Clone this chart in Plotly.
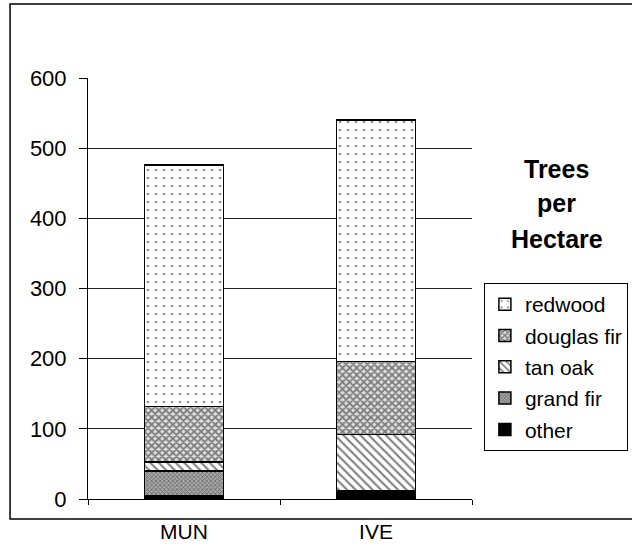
import plotly.graph_objects as go

# Trees per hectare by species at two sites
sites = ["MUN", "IVE"]
other = [4, 12]
grand_fir = [36, 0]
tan_oak = [13, 80]
douglas_fir = [79, 104]
redwood = [344, 344]

FONT = "Liberation Sans, Arial, sans-serif"

# (name, values, base colour, fill pattern, legend rank) in stacking order
series = [
    ("other", other, "black", dict(shape=""), 5),
    ("grand fir", grand_fir, "white", dict(shape="x", bgcolor="#a8a8a8", fgcolor="#2a2a2a", size=3, solidity=0.45), 4),
    ("tan oak", tan_oak, "white", dict(shape="\\", bgcolor="white", fgcolor="black", size=6, solidity=0.35), 3),
    ("douglas fir", douglas_fir, "white", dict(shape="x", bgcolor="#e0e0e0", fgcolor="#1a1a1a", size=5, solidity=0.6), 2),
    ("redwood", redwood, "white", dict(shape=".", bgcolor="white", fgcolor="#222222", size=8, solidity=0.09), 1),
]

fig = go.Figure()
for name, vals, color, pattern, rank in series:
    fig.add_trace(go.Bar(
        x=sites, y=vals, name=name, legendgroup=name, legendrank=rank,
        marker=dict(color=color, pattern=pattern, line=dict(color="black", width=1.5)),
    ))

fig.update_layout(
    barmode="stack",
    bargap=0.59,
    width=632, height=560,
    margin=dict(l=88, r=160, t=78, b=61, autoexpand=False),
    paper_bgcolor="white", plot_bgcolor="white",
    font=dict(family=FONT, size=21, color="black"),
    showlegend=True,
    legend=dict(
        x=1.031, y=0.513, xanchor="left", yanchor="top",
        traceorder="grouped", tracegroupgap=1,
        bordercolor="black", borderwidth=1, bgcolor="white",
        font=dict(family=FONT, size=21),
        itemwidth=30,
    ),
    xaxis=dict(
        showline=True, linecolor="black", linewidth=1,
        ticks="outside", tickson="boundaries", ticklen=5, tickcolor="black",
        ticklabelstandoff=14, showgrid=False,
        tickfont=dict(size=21),
    ),
    yaxis=dict(
        range=[0, 600], dtick=100,
        showline=True, linecolor="black", linewidth=1,
        ticks="outside", ticklen=8, tickcolor="black",
        showgrid=True, gridcolor="#222222", gridwidth=1,
        zeroline=False, ticklabelstandoff=8,
        tickfont=dict(size=22),
    ),
)

# Chart title to the right of the bars
for text, ypos in [("Trees", 0.785), ("per", 0.703), ("Hectare", 0.618)]:
    fig.add_annotation(
        text=f"<b>{text}</b>", x=1.221, y=ypos, xref="paper", yref="paper",
        showarrow=False, xanchor="center", yanchor="middle",
        font=dict(family=FONT, size=25, color="black"),
    )

# Frame around the whole chart
fig.add_shape(
    type="rect", xref="paper", yref="paper",
    x0=-0.203, x1=1.5, y0=-0.0475, y1=1.176,
    line=dict(color="black", width=1.5), fillcolor="rgba(0,0,0,0)", layer="below",
)

fig.write_html("out.html")
